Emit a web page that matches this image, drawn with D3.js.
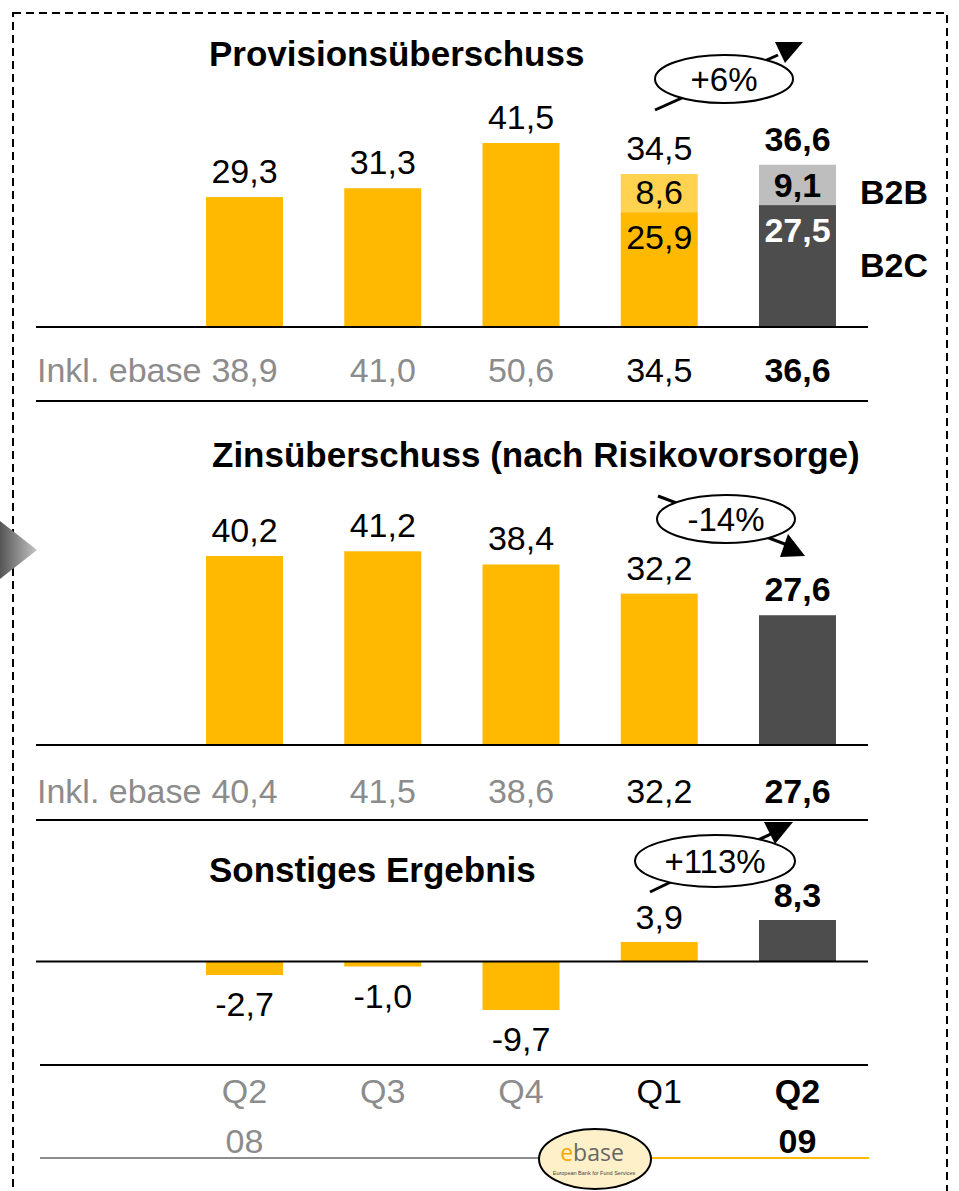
<!DOCTYPE html>
<html lang="de">
<head>
<meta charset="UTF-8">
<title>Ergebnisse</title>
<script src="https://cdn.jsdelivr.net/npm/d3@7/dist/d3.min.js"></script>
<style>
	html,body{margin:0;padding:0;background:#fff;}
	svg{display:block;font-family:"Liberation Sans",Arial,Helvetica,sans-serif;}
</style>
</head>
<body>
<svg id="chart" width="959" height="1191"></svg>
<script>
// data
var quarters = ["Q2", "Q3", "Q4", "Q1", "Q2"];
var years = ["08", "", "", "", "09"];
var provision = [29.3, 31.3, 41.5, 34.5, 36.6];
var provB2C = [null, null, null, 25.9, 27.5];
var provB2B = [null, null, null, 8.6, 9.1];
var provInkl = [38.9, 41.0, 50.6, 34.5, 36.6];
var zins = [40.2, 41.2, 38.4, 32.2, 27.6];
var zinsInkl = [40.4, 41.5, 38.6, 32.2, 27.6];
var sonstiges = [-2.7, -1.0, -9.7, 3.9, 8.3];
var changes = ["+6%", "-14%", "+113%"];

var YEL = "#FFB900", YEL_L = "#FFD24F", DARK = "#4D4D4D", LGRAY = "#BEBEBE", TGRAY = "#8C8C8C";

var svg = d3.select("#chart");
// german decimal comma, plain hyphen as minus
var fmt = function(v){ return d3.format(".1f")(v).replace(".", ",").replace("\u2212", "-"); };
var idx = d3.range(quarters.length);

var x = d3.scaleBand().domain(idx).range([175.4, 866.6]).paddingInner(0.443).paddingOuter(0.2215);
var cx = function(i){ return x(i) + x.bandwidth()/2; };

// frame
svg.append("rect").attr("x", 13).attr("y", 13).attr("width", 934).attr("height", 1200)
	.attr("fill", "none").attr("stroke", "#000").attr("stroke-width", 2).attr("stroke-dasharray", "8,5");

var grad = svg.append("defs").append("linearGradient").attr("id", "tri");
grad.append("stop").attr("offset", "0").attr("stop-color", "#555");
grad.append("stop").attr("offset", "1").attr("stop-color", "#c4c4c4");
svg.append("path").attr("d", "M0,521L37,550L0,579Z").attr("fill", "url(#tri)");

function hline(y, x1, x2, col){
	svg.append("line").attr("x1", x1).attr("x2", x2).attr("y1", y).attr("y2", y)
		.attr("stroke", col || "#000").attr("stroke-width", 2);
}
function txt(s, xx, yy, opt){
	opt = opt || {};
	return svg.append("text").attr("x", xx).attr("y", yy).text(s)
		.attr("font-size", opt.size || 34)
		.attr("font-weight", opt.bold ? "bold" : "normal")
		.attr("text-anchor", opt.anchor || "middle")
		.attr("fill", opt.fill || "#000");
}
function rowStyle(i){ return { bold: i === 4, fill: i < 3 ? TGRAY : "#000" }; }

function changeBadge(label, lineFrom, lineTo, tri, ell){
	svg.append("line").attr("x1", lineFrom[0]).attr("y1", lineFrom[1]).attr("x2", lineTo[0]).attr("y2", lineTo[1])
		.attr("stroke", "#000").attr("stroke-width", 3);
	svg.append("path").attr("d", "M" + tri.join("L") + "Z").attr("fill", "#000");
	svg.append("ellipse").attr("cx", ell[0]).attr("cy", ell[1]).attr("rx", ell[2]).attr("ry", ell[3])
		.attr("fill", "#fff").attr("stroke", "#000").attr("stroke-width", 2);
	txt(label, ell[0], ell[1] + 12, {size: 33});
}

// panel 1: Provisionsüberschuss
var y1 = d3.scaleLinear().domain([0, 41.5]).range([327, 143]);
txt("Provisionsüberschuss", 209, 66, {bold: true, anchor: "start", size: 35});
idx.forEach(function(i){
	if (provB2C[i] === null) {
		svg.append("rect").attr("x", x(i)).attr("width", x.bandwidth())
			.attr("y", y1(provision[i])).attr("height", y1(0) - y1(provision[i])).attr("fill", YEL);
		txt(fmt(provision[i]), cx(i), y1(provision[i]) - 14);
	} else {
		var last = i === 4;
		var top2 = provB2C[i] + provB2B[i];
		svg.append("rect").attr("x", x(i)).attr("width", x.bandwidth())
			.attr("y", y1(provB2C[i])).attr("height", y1(0) - y1(provB2C[i])).attr("fill", last ? DARK : YEL);
		svg.append("rect").attr("x", x(i)).attr("width", x.bandwidth())
			.attr("y", y1(top2)).attr("height", y1(provB2C[i]) - y1(top2)).attr("fill", last ? LGRAY : YEL_L);
		txt(fmt(provB2B[i]), cx(i), y1(provB2C[i]) - 8, {bold: last});
		txt(fmt(provB2C[i]), cx(i), y1(provB2C[i]) + 37, {bold: last, fill: last ? "#fff" : "#000"});
		txt(fmt(provision[i]), cx(i), y1(top2) - 14, {bold: last});
	}
});
txt("B2B", 860, 204, {bold: true, anchor: "start"});
txt("B2C", 860, 277, {bold: true, anchor: "start"});
hline(327, 36, 868);
txt("Inkl. ebase", 37, 382, {anchor: "start", fill: TGRAY});
idx.forEach(function(i){ txt(fmt(provInkl[i]), cx(i), 382, rowStyle(i)); });
hline(401, 36, 868);
changeBadge(changes[0], [655, 110], [778, 55], [[775, 42], [803, 42], [785, 63]], [724, 79, 69, 24]);

// panel 2: Zinsüberschuss
var y2 = d3.scaleLinear().domain([0, 40.2]).range([745, 556]);
txt("Zinsüberschuss (nach Risikovorsorge)", 212, 467, {bold: true, anchor: "start", size: 35});
idx.forEach(function(i){
	svg.append("rect").attr("x", x(i)).attr("width", x.bandwidth())
		.attr("y", y2(zins[i])).attr("height", y2(0) - y2(zins[i])).attr("fill", i === 4 ? DARK : YEL);
	txt(fmt(zins[i]), cx(i), y2(zins[i]) - 14, {bold: i === 4});
});
hline(745, 36, 868);
txt("Inkl. ebase", 37, 803, {anchor: "start", fill: TGRAY});
idx.forEach(function(i){ txt(fmt(zinsInkl[i]), cx(i), 803, rowStyle(i)); });
hline(820, 36, 868);
changeBadge(changes[1], [658, 496], [790, 546], [[780, 557], [788, 534], [805, 556]], [726, 519, 69, 24]);

// panel 3: Sonstiges Ergebnis
var y3 = d3.scaleLinear().domain([-9.7, 8.3]).range([1010, 920]);
txt("Sonstiges Ergebnis", 209, 882, {bold: true, anchor: "start", size: 35});
idx.forEach(function(i){
	var v = sonstiges[i];
	svg.append("rect").attr("x", x(i)).attr("width", x.bandwidth())
		.attr("y", Math.min(y3(v), y3(0))).attr("height", Math.abs(y3(v) - y3(0))).attr("fill", i === 4 ? DARK : YEL);
	txt(fmt(v), cx(i), v >= 0 ? y3(v) - 13 : y3(v) + 41, {bold: i === 4});
});
hline(y3(0), 36, 868);
changeBadge(changes[2], [650, 892], [775, 832], [[764, 822], [793, 822], [775, 844]], [715, 861, 80, 26]);

// bottom axis
hline(1065, 40, 868);
idx.forEach(function(i){
	txt(quarters[i], cx(i), 1103, rowStyle(i));
	if (years[i]) txt(years[i], cx(i), 1153, rowStyle(i));
});
hline(1158, 40, 560, "#8C8C8C");
hline(1158, 560, 869, YEL);
svg.append("ellipse").attr("cx", 595).attr("cy", 1159).attr("rx", 56).attr("ry", 30)
	.attr("fill", "#FEF0C8").attr("stroke", "#000").attr("stroke-width", 2);
var logo = svg.append("text").attr("x", 592).attr("y", 1161).attr("text-anchor", "middle")
	.attr("font-family", "'Open Sans',sans-serif").attr("font-size", 23);
logo.append("tspan").attr("fill", "#F5A800").text("e");
logo.append("tspan").attr("fill", "#666").text("base");
txt("European Bank for Fund Services", 594, 1175, {size: 5.5, fill: "#444"});
</script>
</body>
</html>
